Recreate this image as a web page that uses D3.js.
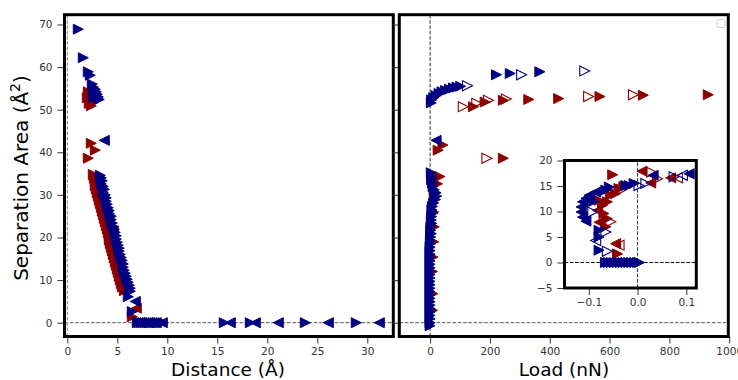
<!DOCTYPE html>
<html>
<head>
<meta charset="utf-8">
<script src="https://cdn.jsdelivr.net/npm/d3@7"></script>
<style>
  body { margin: 0; background: #fff; }
  svg { display: block; font-family: "DejaVu Sans", sans-serif; }
</style>
</head>
<body>
<div id="graph"></div>
<script>
/** tick labels */
const areaTicks = [0, 10, 20, 30, 40, 50, 60, 70];
const distTicks = [0, 5, 10, 15, 20, 25, 30];
const loadTicks = [0, 200, 400, 600, 800, 1000];
const insetLoadTicks = [-0.1, 0, 0.1];
const insetAreaTicks = [-5, 0, 5, 10, 15, 20];

/** left panel: [distance (Å), separation area (Å²)] */
const distRedRight = [
  [2.1, 54.2], [2.2, 53.5], [2.0, 52.8], [2.3, 52.2], [2.2, 51.5], [2.4, 50.9], [2.5, 51.6],
  [2.4, 42.1], [2.8, 40.5], [2.1, 38.6],
  [2.6, 34.8], [2.7, 34.0], [2.8, 33.1], [2.8, 32.2], [2.9, 31.4], [3.0, 30.5], [3.1, 29.7],
  [3.2, 28.8], [3.3, 28.0], [3.4, 27.1], [3.5, 26.2], [3.6, 25.4], [3.7, 24.5], [3.8, 23.7],
  [3.9, 22.8], [4.0, 22.0], [4.1, 21.1], [4.2, 20.3], [4.2, 19.4], [4.3, 18.6], [4.4, 17.7],
  [4.5, 16.9], [4.6, 16.0], [4.7, 15.2], [4.8, 14.3], [4.9, 13.5], [5.0, 12.6], [5.1, 11.8],
  [5.2, 10.9], [5.3, 10.1], [5.4, 9.2], [5.5, 8.4], [5.7, 7.5], [6.5, 1.4]
];
const distRedLeft = [[4.6, 21.5], [4.9, 17.2], [5.3, 13.0], [6.9, 3.4]];
const distBlueRight = [
  [1.1, 68.9], [1.6, 62.2], [2.1, 58.9], [2.3, 58.1], [2.5, 56.0], [2.6, 55.3], [2.8, 54.8],
  [2.9, 54.2], [3.0, 53.6], [3.1, 53.0], [3.2, 52.4], [2.7, 53.8], [2.6, 52.9],
  [3.3, 34.6], [3.4, 34.0], [3.5, 33.3], [3.4, 32.6], [3.6, 32.0], [3.7, 31.3], [3.6, 30.6],
  [3.8, 30.0], [3.9, 29.3], [3.9, 28.5], [4.0, 27.8], [4.1, 27.0], [4.2, 26.3], [4.2, 25.6],
  [4.4, 25.0], [4.4, 24.2], [4.5, 23.4], [4.6, 22.6], [4.7, 21.9], [4.8, 21.2], [4.9, 20.4],
  [4.9, 19.6], [5.0, 18.9], [5.1, 18.2], [5.2, 17.5], [5.2, 16.8], [5.3, 16.0], [5.4, 15.3],
  [5.5, 14.6], [5.6, 13.8], [5.6, 13.0], [5.7, 12.3], [5.8, 11.6], [5.9, 10.9], [6.0, 10.2],
  [6.1, 9.5], [6.2, 8.8], [6.3, 8.1], [6.3, 7.4], [6.1, 6.1], [6.5, 2.6],
  [7.0, 0], [7.2, 0], [7.4, 0], [7.6, 0], [7.8, 0], [8.0, 0], [8.2, 0], [8.4, 0], [8.6, 0],
  [8.8, 0], [9.0, 0], [9.2, 0], [9.4, 0], [9.6, 0],
  [15.7, 0], [18.3, 0], [23.8, 0], [28.9, 0]
];
const distBlueLeft = [
  [3.7, 42.8], [6.8, 5.0], [7.3, 0], [8.1, 0], [8.9, 0], [9.5, 0],
  [16.3, 0], [18.8, 0], [21.1, 0], [26.1, 0], [31.2, 0]
];

/** right panel: [load (nN), separation area (Å²)] */
const loadRedRight = [
  [145, 50.7], [184, 51.8], [245, 52.2], [330, 52.4], [430, 52.6], [568, 53.1], [713, 53.4],
  [930, 53.5], [245, 38.6], [43, 41.7], [27, 40.5],
  [33, 34.3], [25, 32.6], [14, 29.5], [12, 26.0], [14, 22.5], [12, 19.0], [10, 15.4],
  [8, 12.0], [9, 6.8], [8, 2.9]
];
const loadRedOpenRight = [[111, 50.7], [156, 51.5], [195, 52.2], [255, 52.5], [530, 53.1], [680, 53.5], [190, 38.6]];
const loadBlueRight = [
  [5, 52.3], [4, 51.6], [12, 52.8], [20, 53.3], [30, 53.8], [40, 54.2], [52, 54.5], [65, 54.8],
  [78, 55.1], [90, 55.3], [102, 55.5], [222, 58.2], [268, 58.5], [367, 58.9],
  [4, 35.2], [6, 34.4], [5, 33.6], [8, 32.8], [10, 32.0], [14, 31.2], [20, 30.5], [22, 29.7],
  [18, 28.9], [12, 28.1], [8, 27.3], [6, 26.5], [9, 25.7], [5, 24.9], [4, 24.1], [6, 23.3],
  [3, 22.5], [2, 21.7], [4, 20.9], [2, 20.1], [1, 19.3], [1, 18.5], [0, 17.7], [0, 16.9],
  [0, 16.1], [0, 15.3], [0, 14.5], [0, 13.7], [0, 12.9], [0, 12.1], [0, 11.3], [0, 10.5],
  [0, 9.7], [0, 8.9], [0, 8.1], [0, 7.3], [0, 6.5], [0, 5.7], [0, 4.9], [0, 4.1], [0, 3.3],
  [0, 2.5], [0, 1.7], [0, 0.9], [0, 0], [0, -0.7]
];
const loadBlueOpenRight = [[125, 55.6], [306, 58.2], [517, 59.1]];
const loadBlueLeft = [[20, 42.8]];

/** inset: [load (nN), separation area (Å²)] */
const insetRedRight = [
  [-0.051, 17.2], [-0.038, 14.5], [-0.045, 13.5], [-0.079, 12.2], [-0.072, 11.2], [-0.069, 9.6],
  [-0.062, 8.6], [-0.065, 7.0], [-0.041, 1.7], [-0.062, 11.9], [-0.028, 14.9], [-0.056, 13.2]
];
const insetRedLeft = [[0.009, 17.9], [0.027, 15.6], [0.068, 16.6], [-0.082, 10.2], [-0.079, 7.9], [-0.045, 3.7]];
const insetRedOpenRight = [[0.029, 17.7], [-0.032, 14.3], [0.041, 16.4], [-0.055, 8.0]];
const insetRedOpenLeft = [[-0.038, 3.4], [0.082, 16.6]];
const insetBlueRight = [
  [-0.066, 0], [-0.060, 0], [-0.054, 0], [-0.048, 0], [-0.042, 0], [-0.036, 0], [-0.030, 0],
  [-0.024, 0], [-0.018, 0], [-0.012, 0], [-0.006, 0], [0.0, 0], [0.004, 0],
  [-0.079, 2.4], [-0.079, 5.0], [-0.079, 6.3], [-0.058, 14.8], [-0.065, 14.2],
  [-0.024, 15.1], [-0.017, 15.1], [-0.007, 15.5], [-0.090, 12.0]
];
const insetBlueLeft = [
  [-0.086, 13.8], [-0.099, 13.2], [-0.106, 12.6], [-0.113, 11.9], [-0.116, 10.9], [-0.116, 9.9],
  [-0.113, 8.9], [-0.106, 8.1], [0.032, 17.1], [0.106, 17.4]
];
const insetBlueOpenRight = [[-0.062, 2.2], [-0.065, 6.0], [0.003, 15.1], [0.017, 15.5], [-0.092, 9.9], [0.075, 16.8]];
const insetBlueOpenLeft = [[-0.086, 4.3], [0.092, 17.1]];

const width = 738, height = 380;
const navy = '#000080', darkred = '#8b0000';

const svg = d3.select('#graph').append('svg')
  .attr('width', width)
  .attr('height', height);

/** triangle marker pointing right or left */
function tri(dir, s) {
  const h = s / 2;
  return dir === 'right'
    ? `M${-h},${-h}L${h},0L${-h},${h}Z`
    : `M${h},${-h}L${-h},0L${h},${h}Z`;
}

function series(g, data, x, y, color, dir, filled) {
  g.selectAll(null)
    .data(data)
    .join('path')
    .attr('d', tri(dir, 10))
    .attr('transform', d => `translate(${x(d[0])},${y(d[1])})`)
    .attr('fill', filled ? color : 'none')
    .attr('stroke', color)
    .attr('stroke-width', filled ? 1 : 1.1);
}

function styleAxis(sel, fontSize) {
  sel.attr('font-family', 'DejaVu Sans').attr('font-size', fontSize);
  sel.select('.domain').remove();
  sel.selectAll('line').attr('stroke', '#333');
  sel.selectAll('text').attr('fill', '#333');
}

/** a framed panel with clipped plot area */
function panel(id, x, y, xt, yt, xfmt, yfmt) {
  const [x0, x1] = x.range(), [y0, y1] = y.range();
  svg.append('g')
    .attr('transform', `translate(0,${y0})`)
    .call(d3.axisBottom(x).tickValues(xt).tickSize(7).tickPadding(4).tickFormat(xfmt))
    .call(s => styleAxis(s, 10.5));
  svg.append('g')
    .attr('transform', `translate(${x0},0)`)
    .call(d3.axisLeft(y).tickValues(yt).tickSize(7).tickPadding(5).tickFormat(yfmt))
    .call(s => styleAxis(s, 10.5));

  svg.append('clipPath').attr('id', id)
    .append('rect')
    .attr('x', x0).attr('y', y1)
    .attr('width', x1 - x0).attr('height', y0 - y1);

  svg.append('rect')
    .attr('x', x0).attr('y', y1)
    .attr('width', x1 - x0).attr('height', y0 - y1)
    .attr('fill', '#fff');

  const g = svg.append('g').attr('clip-path', `url(#${id})`);
  return g;
}

function frame(x, y) {
  const [x0, x1] = x.range(), [y0, y1] = y.range();
  svg.append('rect')
    .attr('x', x0).attr('y', y1)
    .attr('width', x1 - x0).attr('height', y0 - y1)
    .attr('fill', 'none')
    .attr('stroke', '#000')
    .attr('stroke-width', 3);
}

function dashed(g, x1, y1, x2, y2, color, w) {
  g.append('line')
    .attr('x1', x1).attr('y1', y1).attr('x2', x2).attr('y2', y2)
    .attr('stroke', color)
    .attr('stroke-width', w)
    .attr('stroke-dasharray', '3.7,1.6');
}

/** scales */
const yArea = d3.scaleLinear().domain([-3.24, 72.3]).range([336.5, 14.7]);
const xDist = d3.scaleLinear().domain([-0.28, 32.6]).range([64.5, 393.3]);
const xLoad = d3.scaleLinear().domain([-103, 997]).range([399.3, 728.3]);
const xIn = d3.scaleLinear().domain([-0.150, 0.1206]).range([564.5, 696.3]);
const yIn = d3.scaleLinear().domain([-5, 20]).range([288, 160.5]);

const num = d => d3.format('d')(d);

/** left panel: area vs distance */
const gL = panel('clipL', xDist, yArea, distTicks, areaTicks, num, num);
dashed(gL, xDist.range()[0], yArea(0), xDist.range()[1], yArea(0), '#555', 1);
dashed(gL, xDist(0), yArea.range()[0], xDist(0), yArea.range()[1], '#888', 1);
series(gL, distRedRight, xDist, yArea, darkred, 'right', true);
series(gL, distRedLeft, xDist, yArea, darkred, 'left', true);
series(gL, distBlueRight, xDist, yArea, navy, 'right', true);
series(gL, distBlueLeft, xDist, yArea, navy, 'left', true);
frame(xDist, yArea);

/** right panel: area vs load */
const gR = panel('clipR', xLoad, yArea, loadTicks, areaTicks, num, () => '');
dashed(gR, xLoad.range()[0], yArea(0), xLoad.range()[1], yArea(0), '#555', 1);
dashed(gR, xLoad(0), yArea.range()[0], xLoad(0), yArea.range()[1], '#000', 0.8);
series(gR, loadRedRight, xLoad, yArea, darkred, 'right', true);
series(gR, loadRedOpenRight, xLoad, yArea, darkred, 'right', false);
series(gR, loadBlueRight, xLoad, yArea, navy, 'right', true);
series(gR, loadBlueOpenRight, xLoad, yArea, navy, 'right', false);
series(gR, loadBlueLeft, xLoad, yArea, navy, 'left', true);
frame(xLoad, yArea);

// empty legend box
svg.append('rect')
  .attr('x', 717).attr('y', 19.5)
  .attr('width', 8).attr('height', 8)
  .attr('rx', 1.5)
  .attr('fill', '#fff')
  .attr('stroke', '#ccc');

/** inset: zoom near zero load */
const gI = panel('clipI', xIn, yIn, insetLoadTicks, insetAreaTicks, d3.format('.1f'), num);
dashed(gI, xIn.range()[0], yIn(0), xIn.range()[1], yIn(0), '#000', 1);
dashed(gI, xIn(0), yIn.range()[0], xIn(0), yIn.range()[1], '#000', 0.8);
series(gI, insetRedRight, xIn, yIn, darkred, 'right', true);
series(gI, insetRedLeft, xIn, yIn, darkred, 'left', true);
series(gI, insetRedOpenRight, xIn, yIn, darkred, 'right', false);
series(gI, insetRedOpenLeft, xIn, yIn, darkred, 'left', false);
series(gI, insetBlueRight, xIn, yIn, navy, 'right', true);
series(gI, insetBlueLeft, xIn, yIn, navy, 'left', true);
series(gI, insetBlueOpenRight, xIn, yIn, navy, 'right', false);
series(gI, insetBlueOpenLeft, xIn, yIn, navy, 'left', false);
frame(xIn, yIn);

/** axis labels */
svg.append('text')
  .attr('x', 228).attr('y', 376)
  .attr('text-anchor', 'middle')
  .style('font-size', '18.5px')
  .text('Distance (Å)');

svg.append('text')
  .attr('x', 564).attr('y', 376)
  .attr('text-anchor', 'middle')
  .style('font-size', '18.5px')
  .text('Load (nN)');

const yl = svg.append('text')
  .attr('transform', 'translate(28,178) rotate(-90)')
  .attr('text-anchor', 'middle')
  .style('font-size', '20px');
yl.append('tspan').text('Separation Area (Å');
yl.append('tspan').attr('dy', -8).style('font-size', '14px').text('2');
yl.append('tspan').attr('dy', 8).text(')');
</script>
</body>
</html>
